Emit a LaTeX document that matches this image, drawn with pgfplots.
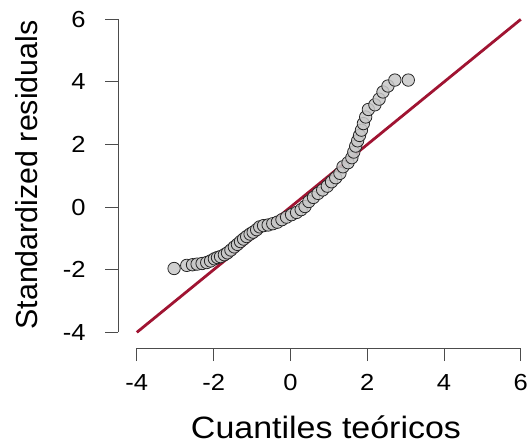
\documentclass[border=0pt]{standalone}
\usepackage{fontspec}
\setmainfont{Liberation Sans}[FakeStretch=1.1]
\newfontfamily\yfont{Liberation Sans}
\usepackage{pgfplots}
\pgfplotsset{compat=1.18}
\definecolor{qqred}{RGB}{160,20,50}
\definecolor{ptfill}{RGB}{200,200,200}
\begin{document}
\begin{tikzpicture}
\useasboundingbox (0bp,0bp) rectangle (530bp,-443bp);
\begin{axis}[
  at={(118bp,-348bp)}, anchor=south west,
  scale only axis, width=406.66bp, height=331.78bp,
  xmin=-4.49, xmax=6.1, ymin=-4.5, ymax=6.1,
  axis lines*=left, axis line style={draw=none},
  xtick={-4,-2,...,6}, ytick={-4,-2,...,6},
  tick align=outside, major tick length=13bp,
  tick style={black!70, line width=0.9bp},
  ticklabel style={font=\fontsize{23.3}{27}\selectfont},
  xticklabel style={yshift=-10bp},
  yticklabel style={xshift=-16bp},
  /pgf/number format/assume math mode=true,
  clip=false,
]
\draw[black!70, line width=0.9bp] (axis cs:-4,-4.5) -- (axis cs:6,-4.5);
\draw[black!70, line width=0.9bp] (axis cs:-4.49,-4) -- (axis cs:-4.49,6);
\addplot[qqred, line width=2.8bp] coordinates {(-4,-4) (6,6)};
\addplot[only marks, mark=*, mark size=6.2bp,
  mark options={fill=ptfill, fill opacity=0.85, draw=black!85, line width=0.8bp}]
  table {
x y
-3.03 -1.96
-2.70 -1.86
-2.55 -1.84
-2.43 -1.82
-2.30 -1.80
-2.18 -1.77
-2.08 -1.72
-1.98 -1.65
-1.90 -1.61
-1.82 -1.58
-1.72 -1.52
-1.64 -1.46
-1.55 -1.37
-1.46 -1.27
-1.38 -1.19
-1.30 -1.10
-1.22 -1.02
-1.14 -0.94
-1.05 -0.86
-0.97 -0.80
-0.88 -0.72
-0.80 -0.63
-0.70 -0.59
-0.58 -0.57
-0.46 -0.53
-0.34 -0.48
-0.22 -0.40
-0.10 -0.32
0.03 -0.24
0.16 -0.17
0.28 -0.08
0.38 0.02
0.48 0.18
0.60 0.31
0.72 0.44
0.84 0.55
0.96 0.67
1.07 0.81
1.18 0.94
1.29 1.08
1.37 1.29
1.50 1.42
1.60 1.58
1.65 1.76
1.70 1.95
1.75 2.12
1.80 2.29
1.85 2.46
1.90 2.67
1.96 2.88
2.03 3.12
2.20 3.27
2.31 3.45
2.41 3.68
2.54 3.87
2.72 4.06
3.07 4.06
};
\end{axis}
\node[font=\fontsize{31}{36}\selectfont, anchor=base] at (326bp,-438bp) {Cuantiles teóricos};
\node[font=\yfont\fontsize{30.5}{36}\selectfont, rotate=90, anchor=base] at (37bp,-175bp) {Standardized residuals};
\end{tikzpicture}
\end{document}
